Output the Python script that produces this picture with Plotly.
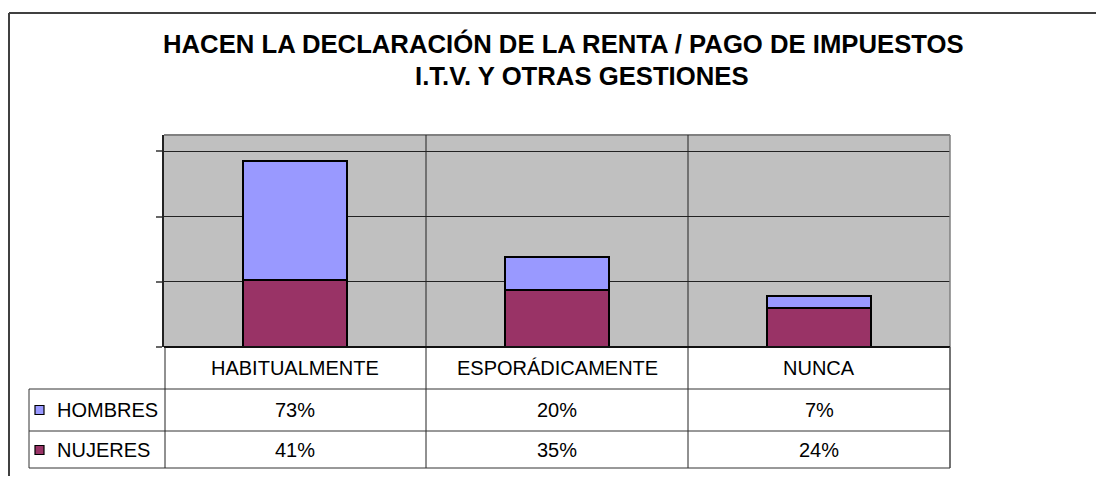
import plotly.graph_objects as go

categories = ["HABITUALMENTE", "ESPORÁDICAMENTE", "NUNCA"]
series_names = ["HOMBRES", "NUJERES"]
hombres = [73, 20, 7]
mujeres = [41, 35, 24]
hombres_labels = ["73%", "20%", "7%"]
mujeres_labels = ["41%", "35%", "24%"]
title_lines = ["HACEN LA DECLARACIÓN DE LA RENTA / PAGO DE IMPUESTOS", "I.T.V. Y OTRAS GESTIONES"]

OFF = 8  # default page body margin
W, H = 1104 - 2 * OFF, 484 - 2 * OFF
C_H = "#9999FF"
C_M = "#993366"
FONT = "Liberation Sans, Arial, sans-serif"

def px(x):
    return (x - OFF) / W

def py(y):
    return 1 - (y - OFF) / H

# plot area in reference-window pixels
PL, PR, PT, PB = 164, 950, 135, 347

fig = go.Figure()
fig.add_trace(go.Bar(x=categories, y=mujeres, name=series_names[1], marker=dict(color=C_M, line=dict(color="black", width=2)), width=0.4))
fig.add_trace(go.Bar(x=categories, y=hombres, name=series_names[0], marker=dict(color=C_H, line=dict(color="black", width=2)), width=0.4))

shapes = []
annotations = []

def line(x0, y0, x1, y1, color="#222", width=1):
    shapes.append(dict(type="line", xref="paper", yref="paper", x0=px(x0), y0=py(y0), x1=px(x1), y1=py(y1), line=dict(color=color, width=width)))

# outer chart border
line(9, 13, 1104, 13, "#404040", 2)
line(9, 13, 9, 484, "#404040", 2)

# plot area border (top/right gray)
line(PL, PT, PR, PT, "#808080", 2)
line(PR, PT, PR, PB, "#808080", 1.5)

# category separators through plot and table
ncat = len(categories)
colw = (PR - PL) / ncat
for i in range(1, ncat):
    xs = PL + i * colw
    line(xs, PT, xs, 468, "#222", 1)

# table lines
TL, LEG = 29, 165
line(PL, PB, PR, PB, "#111", 2)
line(TL, 389, PR, 389, "#333", 1)
line(TL, 431, PR, 431, "#333", 1)
line(TL, 468, PR, 468, "#333", 1)
line(TL, 389, TL, 468, "#333", 1)
line(LEG, PB, LEG, 468, "#222", 1)
line(PR, PB, PR, 468, "#444", 1.5)

# table text
hdr_y, hom_y, muj_y = 368, 410, 450
for i, c in enumerate(categories):
    cx = PL + (i + 0.5) * colw
    annotations.append(dict(text=c, x=px(cx), y=py(hdr_y), xref="paper", yref="paper", showarrow=False, xanchor="center", yanchor="middle", font=dict(family=FONT, size=20, color="black")))
    annotations.append(dict(text=hombres_labels[i], x=px(cx), y=py(hom_y), xref="paper", yref="paper", showarrow=False, xanchor="center", yanchor="middle", font=dict(family=FONT, size=20, color="black")))
    annotations.append(dict(text=mujeres_labels[i], x=px(cx), y=py(muj_y), xref="paper", yref="paper", showarrow=False, xanchor="center", yanchor="middle", font=dict(family=FONT, size=20, color="black")))

# legend keys
for ry, col, name in [(hom_y, C_H, series_names[0]), (muj_y, C_M, series_names[1])]:
    shapes.append(dict(type="rect", xref="paper", yref="paper", x0=px(35), x1=px(44), y0=py(ry + 4.5), y1=py(ry - 4.5), fillcolor=col, line=dict(color="black", width=1.2)))
    annotations.append(dict(text=name, x=px(55), y=py(ry), xref="paper", yref="paper", showarrow=False, xanchor="left", yanchor="middle", font=dict(family=FONT, size=20, color="black")))

# title
annotations.append(dict(text="<b>" + title_lines[0] + "</b>", x=px(563), y=py(44), xref="paper", yref="paper", showarrow=False, xanchor="center", yanchor="middle", font=dict(family=FONT, size=25.7, color="black")))
annotations.append(dict(text="<b>" + title_lines[1] + "</b>", x=px(582), y=py(76), xref="paper", yref="paper", showarrow=False, xanchor="center", yanchor="middle", font=dict(family=FONT, size=25.7, color="black")))

fig.update_layout(
    width=W, height=H,
    margin=dict(l=0, r=0, t=0, b=0),
    paper_bgcolor="white",
    plot_bgcolor="#C0C0C0",
    barmode="stack",
    showlegend=False,
    shapes=shapes,
    annotations=annotations,
    xaxis=dict(domain=[px(PL), px(PR)], range=[-0.5, 2.5], showticklabels=False, showgrid=False, zeroline=False, fixedrange=True),
    yaxis=dict(domain=[py(PB), py(PT)], range=[0, 130], tickvals=[0, 40, 80, 120], showticklabels=False,
               showgrid=True, gridcolor="#222", gridwidth=1, zeroline=False,
               ticks="outside", ticklen=6, tickcolor="#666", tickwidth=2,
               showline=True, linecolor="#222", linewidth=1.5),
)

fig.write_html("out.html")
